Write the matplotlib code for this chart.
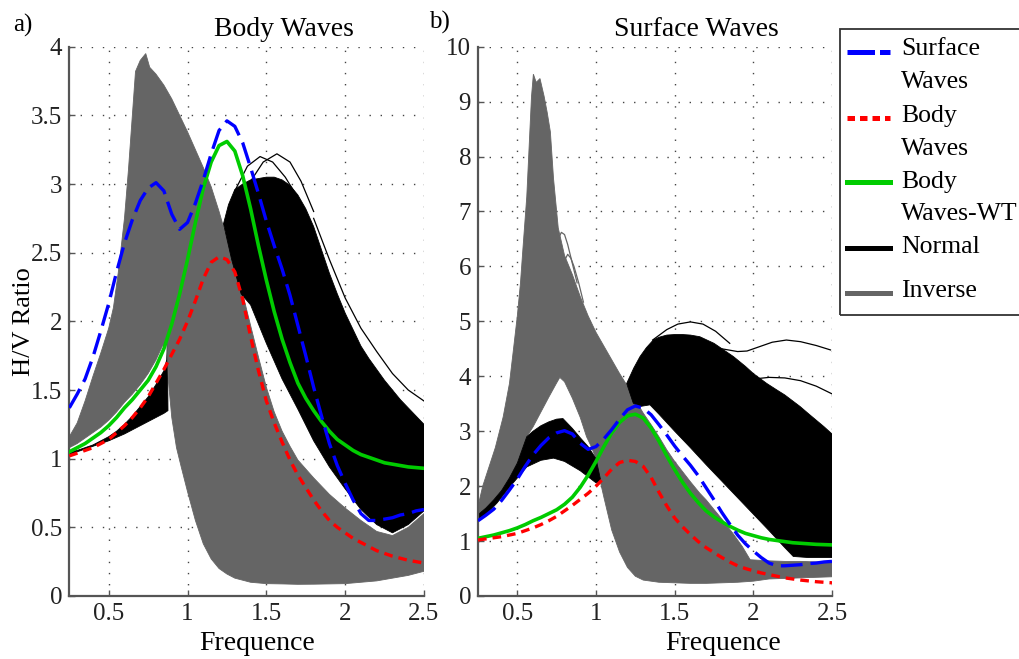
import numpy as np
import matplotlib
matplotlib.use('Agg')
import matplotlib.pyplot as plt
from matplotlib.lines import Line2D
from matplotlib.patches import Rectangle

plt.rcParams['font.family'] = ['Liberation Serif', 'DejaVu Serif']

# mean curves (same in both panels)
freq = [0.25, 0.3, 0.35, 0.4, 0.45, 0.5, 0.55, 0.6, 0.65, 0.7, 0.75, 0.8, 0.85, 0.9, 0.95,
        1.0, 1.05, 1.1, 1.15, 1.2, 1.25, 1.3, 1.35, 1.4, 1.45, 1.5, 1.55, 1.6, 1.65, 1.7,
        1.75, 1.8, 1.85, 1.9, 1.95, 2.0, 2.05, 2.1, 2.15, 2.2, 2.25, 2.3, 2.35, 2.4, 2.45, 2.5]
surface_hv = [1.37, 1.47, 1.58, 1.74, 1.93, 2.13, 2.36, 2.57, 2.74, 2.88, 2.97, 3.01, 2.95, 2.78, 2.67,
              2.72, 2.86, 3.03, 3.22, 3.39, 3.46, 3.42, 3.3, 3.12, 2.93, 2.73, 2.55, 2.38, 2.19, 1.97,
              1.75, 1.52, 1.31, 1.11, 0.95, 0.82, 0.7, 0.6, 0.55, 0.55, 0.56, 0.57, 0.59, 0.6, 0.62, 0.63]
body_hv = [1.02, 1.04, 1.06, 1.08, 1.11, 1.14, 1.19, 1.24, 1.3, 1.37, 1.45, 1.55, 1.65, 1.76, 1.87,
           2.0, 2.15, 2.31, 2.43, 2.47, 2.45, 2.36, 2.16, 1.89, 1.64, 1.42, 1.26, 1.12, 0.99, 0.88,
           0.79, 0.7, 0.62, 0.55, 0.5, 0.46, 0.42, 0.39, 0.36, 0.33, 0.31, 0.29, 0.275, 0.26, 0.25, 0.24]
body_wt_hv = [1.05, 1.08, 1.11, 1.15, 1.19, 1.24, 1.3, 1.37, 1.43, 1.5, 1.57, 1.67, 1.8, 1.98, 2.2,
              2.45, 2.72, 2.97, 3.16, 3.28, 3.31, 3.24, 3.06, 2.82, 2.55, 2.3, 2.07, 1.87, 1.7, 1.55,
              1.44, 1.35, 1.27, 1.2, 1.14, 1.1, 1.06, 1.03, 1.01, 0.99, 0.97, 0.96, 0.95, 0.94, 0.935, 0.93]

# ---- a) Body Waves: envelopes of the Inverse (gray) and Normal (black) curve sets
b_inv_up_x = [0.25, 0.3, 0.35, 0.4, 0.45, 0.5, 0.53, 0.56, 0.6, 0.625, 0.65, 0.67, 0.7, 0.735, 0.76,
              0.8, 0.85, 0.9, 0.95, 1.0, 1.05, 1.1, 1.15, 1.2, 1.25, 1.3, 1.35, 1.4, 1.45, 1.5,
              1.55, 1.6, 1.65, 1.7, 1.8, 1.9, 2.0, 2.1, 2.2, 2.3, 2.4, 2.5]
b_inv_up_y = [1.16, 1.26, 1.42, 1.6, 1.77, 1.95, 2.1, 2.35, 2.75, 3.1, 3.5, 3.82, 3.9, 3.95, 3.85,
              3.8, 3.72, 3.62, 3.5, 3.38, 3.25, 3.12, 2.98, 2.8, 2.6, 2.4, 2.2, 1.97, 1.74, 1.52,
              1.34, 1.2, 1.09, 0.99, 0.86, 0.74, 0.64, 0.55, 0.47, 0.44, 0.5, 0.6]
b_inv_lo_x = [0.25, 0.3, 0.35, 0.4, 0.45, 0.5, 0.55, 0.6, 0.65, 0.7, 0.75, 0.8, 0.84, 0.87, 0.88,
              0.9, 0.93, 0.96, 1.0, 1.05, 1.1, 1.15, 1.2, 1.25, 1.3, 1.35, 1.4, 1.5, 1.6, 1.7,
              1.8, 1.9, 2.0, 2.1, 2.2, 2.3, 2.4, 2.5]
b_inv_lo_y = [1.08, 1.11, 1.15, 1.19, 1.23, 1.28, 1.34, 1.41, 1.47, 1.54, 1.62, 1.72, 1.82, 1.84, 1.55,
              1.3, 1.08, 0.94, 0.76, 0.55, 0.38, 0.27, 0.2, 0.16, 0.13, 0.115, 0.1, 0.09, 0.088, 0.085,
              0.086, 0.088, 0.09, 0.1, 0.11, 0.13, 0.15, 0.18]

b_nor1_up_x = [0.25, 0.3, 0.35, 0.4, 0.45, 0.5, 0.55, 0.6, 0.65, 0.7, 0.75, 0.8, 0.85, 0.868, 0.872]
b_nor1_up_y = [1.05, 1.06, 1.08, 1.1, 1.13, 1.16, 1.2, 1.25, 1.31, 1.38, 1.45, 1.54, 1.64, 1.72, 1.84]
b_nor1_lo_x = [0.25, 0.3, 0.35, 0.4, 0.45, 0.5, 0.55, 0.6, 0.65, 0.7, 0.75, 0.8, 0.85, 0.876]
b_nor1_lo_y = [1.03, 1.05, 1.07, 1.09, 1.11, 1.13, 1.155, 1.18, 1.21, 1.24, 1.27, 1.3, 1.33, 1.35]

b_nor2_up_x = [1.228, 1.26, 1.3, 1.35, 1.4, 1.45, 1.5, 1.55, 1.6, 1.65, 1.7, 1.75, 1.8, 1.85, 1.9,
               1.95, 2.0, 2.05, 2.1, 2.15, 2.2, 2.25, 2.3, 2.35, 2.4, 2.45, 2.5]
b_nor2_up_y = [2.71, 2.85, 2.96, 3.0, 3.03, 3.04, 3.05, 3.05, 3.03, 2.99, 2.92, 2.82, 2.69, 2.52, 2.35,
               2.2, 2.06, 1.94, 1.82, 1.73, 1.65, 1.57, 1.5, 1.43, 1.37, 1.31, 1.25]
b_nor2_lo_x = [1.228, 1.28, 1.34, 1.4, 1.45, 1.5, 1.55, 1.6, 1.7, 1.8, 1.9, 2.0, 2.1, 2.2, 2.3,
               2.4, 2.5]
b_nor2_lo_y = [2.71, 2.45, 2.2, 2.12, 1.98, 1.84, 1.71, 1.58, 1.36, 1.13, 0.94, 0.78, 0.63, 0.52, 0.46,
               0.52, 0.62]

# a few single Normal curves standing out of the band
b_nor_extra = [
    ([1.3, 1.38, 1.46, 1.54, 1.62, 1.7], [2.95, 3.13, 3.2, 3.16, 3.05, 2.9]),
    ([1.4, 1.48, 1.567, 1.65, 1.72, 1.8], [3.02, 3.16, 3.22, 3.16, 3.02, 2.8]),
    ([1.8, 1.9, 2.0, 2.1, 2.2, 2.3, 2.4, 2.5], [2.75, 2.45, 2.17, 1.95, 1.78, 1.62, 1.5, 1.42]),
]

# ---- b) Surface Waves
s_inv_up_x = [0.25, 0.28, 0.32, 0.36, 0.41, 0.45, 0.475, 0.5, 0.52, 0.535, 0.56, 0.59, 0.602, 0.62,
              0.644, 0.67, 0.69, 0.71, 0.73, 0.76, 0.8, 0.85, 0.9, 0.95, 1.0, 1.05, 1.1, 1.15, 1.2,
              1.25, 1.3, 1.35, 1.4, 1.45, 1.5, 1.6, 1.66, 1.7, 1.8, 1.87, 1.93, 1.98, 2.1, 2.2,
              2.3, 2.4, 2.5]
s_inv_up_y = [1.63, 2.0, 2.35, 2.7, 3.26, 3.87, 4.48, 5.1, 5.7, 6.3, 7.27, 9.09, 9.5, 9.35,
              9.42, 9.1, 8.8, 8.45, 7.6, 6.7, 6.2, 5.85, 5.45, 5.1, 4.8, 4.55, 4.3, 4.05, 3.82,
              3.57, 3.33, 3.12, 2.9, 2.66, 2.45, 2.08, 1.87, 1.75, 1.4, 1.14, 0.9, 0.66, 0.64, 0.63,
              0.63, 0.62, 0.62]
s_inv_lo_x = [0.25, 0.3, 0.35, 0.4, 0.45, 0.5, 0.56, 0.6, 0.65, 0.7, 0.75, 0.77, 0.8, 0.85, 0.9,
              0.94, 0.97, 1.0, 1.03, 1.05, 1.1, 1.15, 1.2, 1.25, 1.3, 1.35, 1.4, 1.5, 1.6, 1.7,
              1.8, 1.9, 2.0, 2.1, 2.2, 2.3, 2.4, 2.5]
s_inv_lo_y = [1.48, 1.6, 1.75, 1.92, 2.15, 2.42, 2.9, 3.08, 3.35, 3.62, 3.88, 3.98, 3.9, 3.6, 3.25,
              2.9, 2.72, 2.5, 2.05, 1.8, 1.2, 0.8, 0.52, 0.36, 0.29, 0.27, 0.25, 0.24, 0.23, 0.23,
              0.24, 0.25, 0.27, 0.31, 0.32, 0.33, 0.34, 0.35]

s_nor1_up_x = [0.25, 0.3, 0.35, 0.4, 0.45, 0.5, 0.56, 0.6, 0.65, 0.7, 0.75, 0.79, 0.85, 0.9, 0.95,
               1.0, 1.03]
s_nor1_up_y = [1.48, 1.6, 1.75, 1.92, 2.15, 2.42, 2.9, 3.0, 3.1, 3.17, 3.22, 3.23, 3.05, 2.88, 2.72,
               2.5, 2.1]
s_nor1_lo_x = [0.25, 0.3, 0.37, 0.45, 0.56, 0.65, 0.73, 0.8, 0.9, 1.0, 1.03]
s_nor1_lo_y = [1.36, 1.48, 1.69, 1.98, 2.35, 2.47, 2.51, 2.45, 2.28, 2.06, 2.08]

s_nor2_up_x = [1.195, 1.24, 1.28, 1.32, 1.364, 1.4, 1.45, 1.5, 1.55, 1.6, 1.66, 1.75, 1.873, 1.95,
               2.0, 2.085, 2.15, 2.2, 2.297, 2.35, 2.4, 2.45, 2.5]
s_nor2_up_y = [3.87, 4.15, 4.36, 4.52, 4.66, 4.71, 4.75, 4.76, 4.76, 4.75, 4.72, 4.6, 4.36, 4.18,
               4.05, 3.87, 3.75, 3.66, 3.45, 3.32, 3.2, 3.08, 2.95]
s_nor2_lo_x = [1.195, 1.237, 1.28, 1.343, 1.4, 1.5, 1.6, 1.7, 1.8, 1.9, 2.0, 2.1, 2.2, 2.254, 2.35, 2.5]
s_nor2_lo_y = [3.87, 3.51, 3.45, 3.48, 3.31, 3.0, 2.7, 2.39, 2.09, 1.79, 1.49, 1.19, 0.88, 0.72, 0.7, 0.7]

s_nor_extra = [
    ([1.36, 1.45, 1.52, 1.6, 1.68, 1.76, 1.85], [4.66, 4.85, 4.95, 4.99, 4.95, 4.82, 4.6]),
    ([1.8, 1.9, 1.96, 2.05, 2.12, 2.21, 2.3, 2.4, 2.49], [4.5, 4.45, 4.46, 4.55, 4.62, 4.66, 4.63, 4.56, 4.48]),
    ([2.0, 2.1, 2.2, 2.3, 2.4, 2.5], [3.95, 3.98, 3.97, 3.92, 3.82, 3.68]),
]
s_inv_extra = [
    ([0.72, 0.75, 0.78, 0.8, 0.82, 0.85, 0.88], [6.0, 6.45, 6.62, 6.58, 6.4, 6.05, 5.7]),
    ([0.76, 0.79, 0.82, 0.84, 0.86, 0.89, 0.92], [5.7, 6.05, 6.22, 6.15, 6.0, 5.7, 5.35]),
]

legend_labels = [['Surface', 'Waves'], ['Body', 'Waves'], ['Body', 'Waves-WT'], ['Normal'], ['Inverse']]

GRAY = '#656565'
BLUE = '#0000ff'
RED = '#ff0000'
GREEN = '#00cc00'
AXC = '#555555'


def band(ax, ux, uy, lx, ly, color):
    ax.fill(list(ux) + list(lx)[::-1], list(uy) + list(ly)[::-1],
            color=color, lw=0.6, ec=color, zorder=2)


def style_axes(ax, ymax, ystep):
    ax.set_xlim(0.25, 2.5)
    ax.set_ylim(0, ymax)
    ax.set_xticks([0.5, 1, 1.5, 2, 2.5])
    ax.set_xticklabels(['0.5', '1', '1.5', '2', '2.5'])
    yt = np.arange(0, ymax + ystep / 2, ystep)
    ax.set_yticks(yt)
    ax.set_yticklabels(['%g' % v for v in yt])
    for s in ['top', 'right']:
        ax.spines[s].set_visible(False)
    for s in ['left', 'bottom']:
        ax.spines[s].set_color(AXC)
        ax.spines[s].set_linewidth(1.6)
    ax.tick_params(direction='in', length=4, width=1, color=AXC, labelsize=18,
                   labelcolor='#222222', pad=5)
    ax.grid(True, linestyle=(0, (1, 7)), color='#444444', lw=1.0)
    ax.set_axisbelow(True)


def mean_lines(ax):
    ax.plot(freq, body_wt_hv, color=GREEN, lw=2.6, zorder=5)
    ax.plot(freq, body_hv, color=RED, lw=2.4, dashes=(2.6, 1.8), zorder=5)
    ax.plot(freq, surface_hv, color=BLUE, lw=2.4, dashes=(6.5, 2.4), zorder=6)


fig = plt.figure(figsize=(10.19, 6.59), dpi=100)
W, H = 1019.0, 659.0
ax1 = fig.add_axes([69.3 / W, 63 / H, 354.7 / W, 549.3 / H])
ax2 = fig.add_axes([478 / W, 63 / H, 354 / W, 549.3 / H])

# panel a
band(ax1, b_nor1_up_x, b_nor1_up_y, b_nor1_lo_x, b_nor1_lo_y, 'black')
band(ax1, b_inv_up_x, b_inv_up_y, b_inv_lo_x, b_inv_lo_y, GRAY)
band(ax1, b_nor2_up_x, b_nor2_up_y, b_nor2_lo_x, b_nor2_lo_y, 'black')
for xs, ys in b_nor_extra:
    ax1.plot(xs, ys, color='black', lw=0.9, zorder=3)
mean_lines(ax1)
style_axes(ax1, 4, 0.5)
ax1.set_title('Body Waves', fontsize=20, x=0.605, pad=8)
ax1.set_xlabel('Frequence', fontsize=20)
ax1.xaxis.set_label_coords(0.529, -0.064)
ax1.set_ylabel('H/V Ratio', fontsize=19)
ax1.yaxis.set_label_coords(-0.096, 0.5)

# panel b
band(ax2, s_inv_up_x, s_inv_up_y, s_inv_lo_x, s_inv_lo_y, GRAY)
for xs, ys in s_inv_extra:
    ax2.plot(xs, ys, color=GRAY, lw=0.9, zorder=2)
band(ax2, s_nor1_up_x, s_nor1_up_y, s_nor1_lo_x, s_nor1_lo_y, 'black')
band(ax2, s_nor2_up_x, s_nor2_up_y, s_nor2_lo_x, s_nor2_lo_y, 'black')
for xs, ys in s_nor_extra:
    ax2.plot(xs, ys, color='black', lw=0.9, zorder=3)
mean_lines(ax2)
style_axes(ax2, 10, 1)
ax2.set_title('Surface Waves', fontsize=20, x=0.616, pad=8)
ax2.set_xlabel('Frequence', fontsize=20)
ax2.xaxis.set_label_coords(0.693, -0.064)

fig.text(23 / W, 1 - 25 / H, 'a)', fontsize=18, ha='center', va='center')
fig.text(439 / W, 1 - 22 / H, 'b)', fontsize=18, ha='center', va='center')

# legend box drawn by hand so the key sits on the first text line
fig.add_artist(Rectangle((840 / W, 1 - 315 / H), 200 / W, 286 / H, transform=fig.transFigure,
                         fill=False, ec='#333333', lw=1.3))
handle_y = [52.3, 117.7, 182.3, 247.7, 293.3]
handle_style = [dict(color=BLUE, dashes=(5.5, 1.0)), dict(color=RED, dashes=(1.5, 1.0)),
                dict(color=GREEN), dict(color='black'), dict(color=GRAY)]
text_base = [[55, 88.3], [121.7, 155], [188.3, 220], [253.3], [296.7]]
for hy, st, lab, base in zip(handle_y, handle_style, legend_labels, text_base):
    fig.add_artist(Line2D([847 / W, 890 / W], [1 - hy / H, 1 - hy / H], transform=fig.transFigure,
                          lw=3.6, **st))
    for line, by in zip(lab, base):
        fig.text(901 / W, 1 - by / H, line, fontsize=18.5, va='baseline', ha='left')

fig.savefig('out.png', dpi=100)
